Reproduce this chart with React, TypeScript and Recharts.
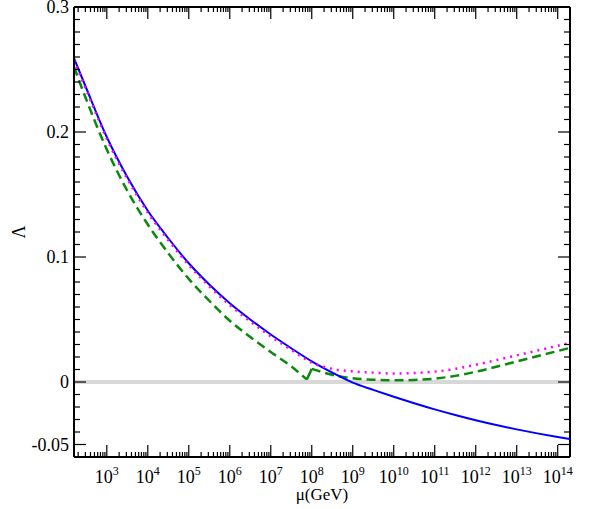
import React from 'react';
import { LineChart, Line, XAxis, YAxis, ReferenceLine } from 'recharts';

// log10(mu / GeV) grid shared by the solid and dotted curves
const logMu = [2.2, 2.5, 3, 3.5, 4, 4.5, 5, 5.5, 6, 6.5, 7, 7.5, 8, 8.5, 9, 9.5, 10, 10.5, 11, 11.5, 12, 12.5, 13, 13.5, 14, 14.3];
const lambdaSolid = [0.259, 0.235, 0.196, 0.164, 0.137, 0.115, 0.095, 0.078, 0.063, 0.05, 0.038, 0.027, 0.0165, 0.0075, -0.0005, -0.0063, -0.0118, -0.017, -0.0219, -0.0264, -0.0306, -0.0344, -0.0379, -0.0411, -0.044, -0.0456];
const lambdaDotted = [0.2575, 0.2335, 0.1945, 0.1625, 0.1355, 0.1135, 0.0935, 0.0765, 0.0615, 0.0485, 0.0365, 0.0257, 0.0155, 0.0105, 0.0085, 0.0075, 0.0068, 0.0072, 0.0083, 0.0105, 0.0138, 0.0175, 0.0213, 0.0251, 0.029, 0.0313];

// dashed curve has its own grid (threshold kink near 10^8)
const logMuDashed = [2.2, 2.5, 3, 3.5, 4, 4.5, 5, 5.5, 6, 6.5, 7, 7.5, 7.88, 8.0, 8.3, 8.6, 9, 9.5, 10, 10.5, 11, 11.5, 12, 12.5, 13, 13.5, 14, 14.3];
const lambdaDashed = [0.252, 0.226, 0.186, 0.153, 0.126, 0.103, 0.0825, 0.065, 0.049, 0.036, 0.024, 0.0125, 0.002, 0.0105, 0.0075, 0.005, 0.003, 0.0018, 0.0013, 0.0016, 0.0027, 0.0049, 0.0082, 0.0122, 0.0164, 0.0206, 0.0248, 0.0273];
const KINK_LOW = 12; // index of 7.88 (bottom of the dip)
const KINK_HIGH = 13; // index of 8.0 (top of the jump)

const xDecades = [3, 4, 5, 6, 7, 8, 9, 10, 11, 12, 13, 14];
const yLabels: Record<string, string> = { '0.3': '0.3', '0.2': '0.2', '0.1': '0.1', '0': '0', '-0.05': '-0.05' };

const X_DOMAIN: [number, number] = [2.2, 14.3];
const Y_DOMAIN: [number, number] = [-0.06, 0.3];

// all tick positions (major decades + minor 2..9 marks), y every 0.01
const xTicks: number[] = [];
for (let n = 2; n <= 14; n++) {
  for (let k = 1; k <= 9; k++) {
    const v = n + Math.log10(k);
    if (v > X_DOMAIN[0] + 1e-6 && v < X_DOMAIN[1] - 1e-6) xTicks.push(v);
  }
}
const yTicks: number[] = [];
for (let i = -5; i <= 30; i++) yTicks.push(i / 100);

const W = 598;
const H = 509;
const PLOT_W = 496;
const PLOT_H = 450;
const FONT = 'Liberation Serif, Times New Roman, DejaVu Serif, serif';

const solidData = logMu.map((x, i) => ({ x, v: lambdaSolid[i] }));
const dottedData = logMu.map((x, i) => ({ x, v: lambdaDotted[i] }));
const dashedData = logMuDashed.map((x, i) => ({ x, v: lambdaDashed[i] }));
const dashedBefore = dashedData.slice(0, KINK_LOW + 1);
const dashedJump = dashedData.slice(KINK_LOW, KINK_HIGH + 1);
const dashedAfter = dashedData.slice(KINK_HIGH);

const textStyle = { fontFamily: FONT };

const XTick = (props: any) => {
  const { x, y, payload } = props;
  const v = payload.value;
  const major = Math.abs(v - Math.round(v)) < 1e-6;
  const len = major ? 12 : 5;
  return (
    <g>
      <line x1={x} y1={y} x2={x} y2={y - len} stroke="#000" strokeWidth={1.2} />
      <line x1={x} y1={y - PLOT_H} x2={x} y2={y - PLOT_H + len} stroke="#000" strokeWidth={1.2} />
      {major && xDecades.includes(Math.round(v)) && (
        <text x={x} y={y + 26} textAnchor="middle" fontFamily={FONT} style={textStyle} fontSize={18} fill="#000">
          10<tspan dy={-8} fontSize={12}>{Math.round(v)}</tspan>
        </text>
      )}
    </g>
  );
};

const YTick = (props: any) => {
  const { x, y, payload } = props;
  const key = String(payload.value);
  const label = yLabels[key];
  const len = label !== undefined ? 12 : 6;
  return (
    <g>
      <line x1={x} y1={y} x2={x + len} y2={y} stroke="#000" strokeWidth={1.2} />
      <line x1={x + PLOT_W} y1={y} x2={x + PLOT_W - len} y2={y} stroke="#000" strokeWidth={1.2} />
      {label !== undefined && (
        <text x={x - 5} y={y} dy="0.35em" textAnchor="end" fontFamily={FONT} style={textStyle} fontSize={18} fill="#000">
          {label}
        </text>
      )}
    </g>
  );
};

const YLabel = (props: any) => {
  const vb = props.viewBox;
  const cx = vb.x + 19;
  const cy = vb.y + vb.height / 2;
  return (
    <text x={cx} y={cy} dy="0.35em" textAnchor="middle" fontFamily={FONT} style={textStyle} fontSize={18} fill="#000" transform={`rotate(-90, ${cx}, ${cy})`}>
      Λ
    </text>
  );
};

const XLabel = (props: any) => {
  const vb = props.viewBox;
  return (
    <text x={vb.x + vb.width / 2} y={vb.y + 43} textAnchor="middle" fontFamily={FONT} style={textStyle} fontSize={17} fill="#000">
      μ(GeV)
    </text>
  );
};

export default function App() {
  return (
    <div style={{ position: 'absolute', left: 0, top: 0, width: W, height: H, background: '#fff', fontFamily: FONT }}>
      <LineChart width={W} height={H} margin={{ top: 7, right: 28, left: 0, bottom: 0 }} style={textStyle}>
        <XAxis
          type="number"
          dataKey="x"
          domain={X_DOMAIN}
          allowDataOverflow
          ticks={xTicks}
          interval={0}
          height={52}
          tickSize={0}
          tickMargin={0}
          tickLine={false}
          axisLine={{ stroke: '#000', strokeWidth: 2 }}
          tick={<XTick />}
          label={<XLabel />}
        />
        <YAxis
          type="number"
          domain={Y_DOMAIN}
          allowDataOverflow
          ticks={yTicks}
          interval={0}
          width={74}
          tickSize={0}
          tickMargin={0}
          tickLine={false}
          axisLine={{ stroke: '#000', strokeWidth: 2 }}
          tick={<YTick />}
          label={<YLabel />}
        />
        <ReferenceLine y={0} stroke="#d8d8d8" strokeWidth={4} />
        <ReferenceLine y={0.3} stroke="#000" strokeWidth={2} />
        <ReferenceLine x={14.3} stroke="#000" strokeWidth={2} />
        <Line data={dashedBefore} dataKey="v" type="monotone" stroke="#0a8a0a" strokeWidth={2.5} strokeDasharray="9 5" dot={false} isAnimationActive={false} />
        <Line data={dashedJump} dataKey="v" type="linear" stroke="#0a8a0a" strokeWidth={2.5} dot={false} isAnimationActive={false} />
        <Line data={dashedAfter} dataKey="v" type="monotone" stroke="#0a8a0a" strokeWidth={2.5} strokeDasharray="9 5" dot={false} isAnimationActive={false} />
        <Line data={solidData} dataKey="v" type="monotone" stroke="#0000ff" strokeWidth={2} dot={false} isAnimationActive={false} />
        <Line data={dottedData} dataKey="v" type="monotone" stroke="#ff00ff" strokeWidth={2.5} strokeDasharray="2 5" dot={false} isAnimationActive={false} />
      </LineChart>
    </div>
  );
}
